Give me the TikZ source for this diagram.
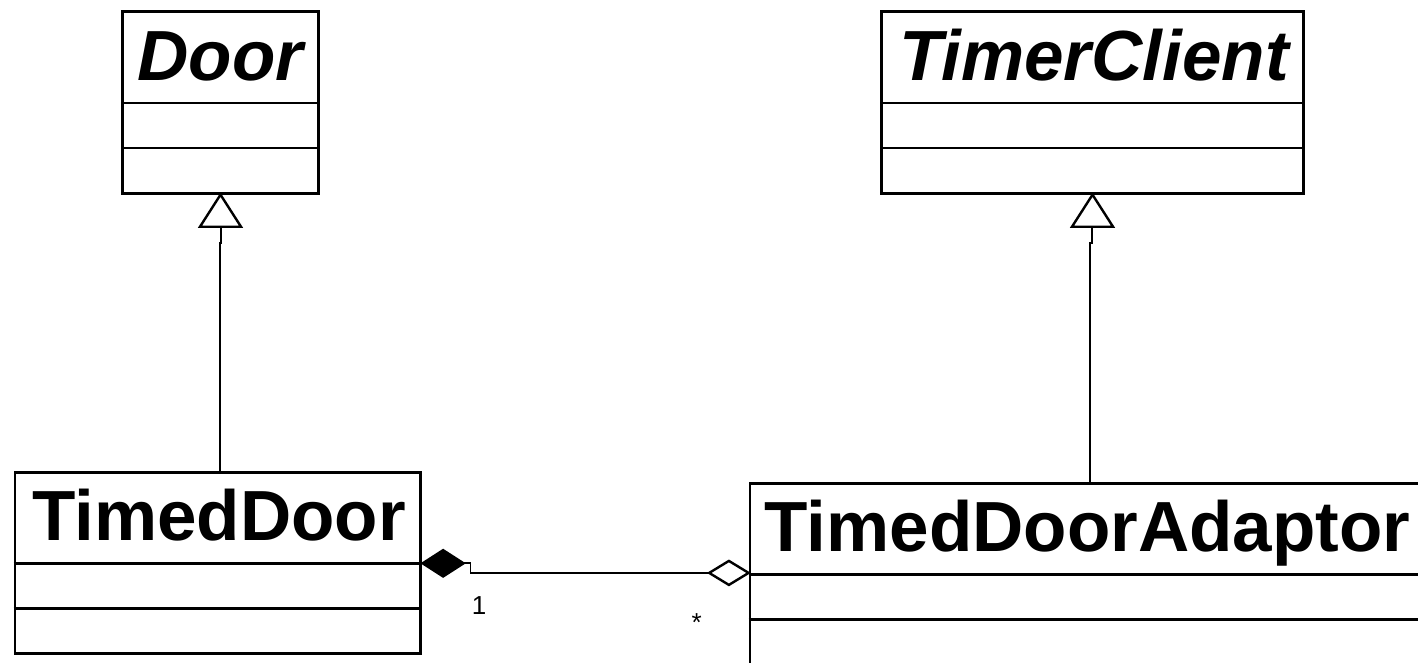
\documentclass[tikz,border=0pt]{standalone}
\usepackage{fontspec}
\setmainfont{Liberation Sans}
\usetikzlibrary{calc}
\begin{document}
\begin{tikzpicture}[x=1pt,y=-1pt,
  classbox/.style={draw, line width=2.8pt, rectangle, inner sep=0pt},
  sepline/.style={line width=2.8pt},
  classname/.style={anchor=base, inner sep=0pt, font=\bfseries\fontsize{71}{80}\selectfont},
  conn/.style={line width=1.8pt},
  genhead/.style={draw, line width=2.4pt, fill=white, line join=miter},
  comphead/.style={draw, line width=1.8pt, fill=black},
  agghead/.style={draw, line width=2.4pt, fill=white},
  mult/.style={anchor=base, inner sep=0pt, font=\fontsize{26}{30}\selectfont}]
\clip (0,0) rectangle (1418,662);

% class boxes
\node[classbox, minimum width=195.6pt, minimum height=181.6pt] (door) at (220.5,102.5) {};
\node[classbox, minimum width=421.6pt, minimum height=181.6pt] (timerclient) at (1092.5,102.5) {};
\node[classbox, minimum width=405.7pt, minimum height=180.6pt] (timeddoor) at (217.85,563) {};
\node[classbox, minimum width=720pt, minimum height=200pt] (adaptor) at (1110,583.3) {};

% compartments
\foreach \b/\a/\c in {door/92.6/137.6, timerclient/92.6/137.6, timeddoor/92.3/137.3, adaptor/92.7/137.7} {
  \draw[sepline] ($(\b.north west)+(0,\a)$) -- ($(\b.north east)+(0,\a)$);
  \draw[sepline] ($(\b.north west)+(0,\c)$) -- ($(\b.north east)+(0,\c)$);
}

% class names
\node[classname] (doorname) at (220.5,80) {\itshape Door};
\node[classname] (tcname) at (1094,80) {\itshape TimerClient};
\node[classname] (tdname) at (219,540) {TimedDoor};
\node[classname, anchor=base west] (adname) at (764.5,551.7) {TimedDoorAdaptor};

% generalisation: TimedDoor -> Door
\draw[genhead] (door.south) -- ++(-20.5,32) -- ++(41,0) -- cycle;
\coordinate (doorbase) at ($(door.south)+(0.8,32)$);
\draw[conn] ($(timeddoor.north)+(1.8,0)$) |- ($(doorbase)+(-1.6,16)$) -- ++(1.6,0) -- (doorbase);

% generalisation: TimedDoorAdaptor -> TimerClient
\draw[genhead] (timerclient.south) -- ++(-20.5,32) -- ++(41,0) -- cycle;
\coordinate (tcbase) at ($(timerclient.south)+(-0.2,32)$);
\coordinate (adtop) at (1090,483.3);
\draw[conn] (adtop) |- ($(tcbase)+(-2.3,16)$) -- ++(2.3,0) -- (tcbase);

% composition / aggregation between TimedDoor and TimedDoorAdaptor
\coordinate (cvert) at ($(timeddoor.east)+(0,0.3)$);
\coordinate (avert) at ($(adaptor.north west)+(0,91)$);
\draw[comphead] (cvert) -- ++(21,-13.5) -- ++(21,13.5) -- ++(-21,13.5) -- cycle;
\draw[agghead] (avert) -- ++(-19.7,-12) -- ++(-19.7,12) -- ++(19.7,12) -- cycle;
\draw[conn] ($(cvert)+(42,0)$) -- ++(6.3,0) |- ($(avert)+(-39.4,0)$);

% multiplicities
\node[mult] (m1) at (479,614) {1};
\node[mult] (m2) at (696.7,631) {*};
\end{tikzpicture}
\end{document}
